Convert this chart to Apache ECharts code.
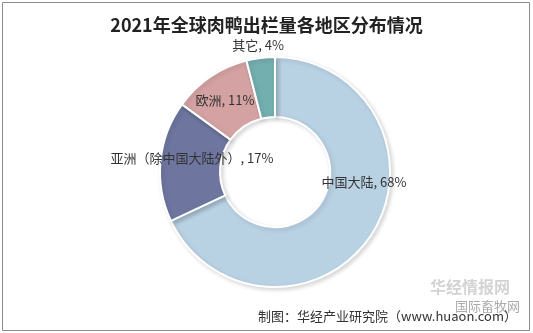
<!DOCTYPE html>
<html>
<head>
<meta charset="utf-8">
<script src="https://cdn.jsdelivr.net/npm/echarts@6/dist/echarts.min.js"></script>
<style>
html, body { margin: 0; padding: 0; background: #fff; }
#chart { width: 533px; height: 333px; }
</style>
</head>
<body>
<div id="chart"></div>
<script>
var regions = ['中国大陆', '亚洲（除中国大陆外）', '欧洲', '其它'];
var shares = [68, 17, 11, 4];
var colors = ['#b8d1e3', '#6e76a0', '#d4a2a2', '#74afb0'];
// where each label sits (centre of text)
var labelPos = [[364, 182], [192, 158], [225, 100], [258, 45]];

var myChart = echarts.init(document.getElementById('chart'));
var cjk = '"Noto Sans CJK SC", sans-serif';

var option = {
    backgroundColor: '#fff',
    animation: false,
    title: {
        text: '2021年全球肉鸭出栏量各地区分布情况',
        left: 'center',
        top: 11,
        textStyle: {
            fontFamily: cjk,
            fontSize: 18,
            fontWeight: 'bold',
            color: '#222'
        }
    },
    graphic: [
        {
            type: 'rect',
            shape: { x: 2.5, y: 2.5, width: 527, height: 328 },
            style: { fill: 'none', stroke: '#8c8c8c', lineWidth: 1 },
            silent: true
        },
        {
            type: 'text',
            left: 430, top: 279,
            style: { text: '华经情报网', fontFamily: cjk, fontSize: 16, fontWeight: 'bold', fill: '#d3d3d3' }
        },
        {
            type: 'text',
            left: 455, top: 300,
            style: { text: '国际畜牧网', fontFamily: cjk, fontSize: 13, fill: '#aaa' }
        },
        {
            type: 'text',
            right: 16, top: 310,
            style: { text: '制图：华经产业研究院（www.huaon.com）', fontFamily: cjk, fontSize: 13, fill: '#333' }
        }
    ],
    series: [
        {
            type: 'pie',
            center: [275, 172],
            radius: [55, 115],
            startAngle: 90,
            clockwise: true,
            itemStyle: {
                borderColor: '#fff',
                borderWidth: 2,
                shadowBlur: 4,
                shadowOffsetX: 2,
                shadowOffsetY: 2,
                shadowColor: 'rgba(0,0,0,0.15)'
            },
            label: {
                show: true,
                position: 'inside',
                formatter: '{b}, {c}%',
                fontFamily: cjk,
                fontSize: 13,
                color: '#333'
            },
            labelLine: { show: false },
            labelLayout: function (params) {
                var p = labelPos[params.dataIndex];
                return { x: p[0], y: p[1], align: 'center', verticalAlign: 'middle' };
            },
            data: regions.map(function (name, i) {
                return { name: name, value: shares[i], itemStyle: { color: colors[i] } };
            })
        }
    ]
};

myChart.setOption(option);
</script>
</body>
</html>
